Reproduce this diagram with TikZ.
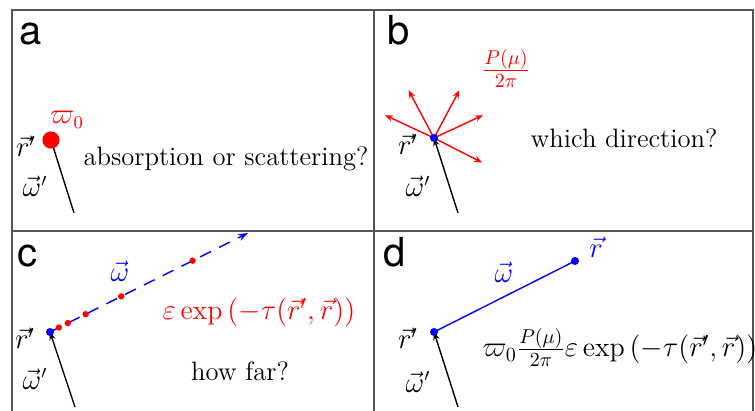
\documentclass[tikz,border=0pt]{standalone}
\usepackage{fontspec}
\newfontfamily\panelfont{TeX Gyre Heros}
\usetikzlibrary{arrows.meta,calc}
\definecolor{framegray}{RGB}{85,85,85}
\tikzset{
  panel/.style={font=\panelfont\fontsize{20}{24}\selectfont,anchor=base west,inner sep=0pt},
  txt/.style={font=\fontsize{13.3}{16}\selectfont,anchor=base,inner sep=0pt},
  bigtxt/.style={txt,font=\fontsize{14}{17}\selectfont},
  dot/.style={fill=blue},
}

\begin{document}
\begin{tikzpicture}[x=0.5pt,y=-0.5pt,line width=0.7pt,>={Stealth[length=4pt,width=3.2pt]}]
  \useasboundingbox (0,0) rectangle (755,411);
  \draw[framegray,line width=1.1pt] (12,411) -- (12,10) -- (753,10) -- (753,411);
  \draw[framegray,line width=1.1pt] (374,10) -- (374,411) (12,231) -- (753,231);

  \coordinate (A) at (51,140);
  \coordinate (A0) at (74,213);
  \draw[->] (A0) -- (A);
  \fill[red] (A) circle (4.3pt);
  \node[panel] (la) at (19,45) {a};
  \node[txt,red] (w0) at (67,124) {$\varpi_0$};
  \node[txt] (ra) at (26,157) {$\vec{r}'$};
  \node[txt] (oa) at (35,197) {$\vec{\omega}'$};
  \node[txt] (qa) at (226,166) {absorption or scattering?};

  \coordinate (B) at (434,138);
  \coordinate (B0) at (458,213);
  \draw[->] (B0) -- (B);
  \foreach \a in {-155,-118,-62,-25,27}
    \draw[red,->] (B) -- ++(\a:54);
  \fill[dot] (B) circle (2pt);
  \node[panel] (lb) at (387,45) {b};
  \node[bigtxt,red] (pb) at (506,78) {$\frac{P(\mu)}{2\pi}$};
  \node[txt] (rb) at (408,155) {$\vec{r}'$};
  \node[txt] (ob) at (418,197) {$\vec{\omega}'$};
  \node[txt] (qb) at (624,148) {which direction?};

  \coordinate (C) at (50,332);
  \coordinate (C0) at (75,407);
  \coordinate (C1) at (248,233);
  \draw[->] (C0) -- (C);
  \draw[blue,dash pattern=on 6pt off 4.5pt,->,>={Stealth[length=5pt,width=3.6pt]}] (C) -- (C1);
  \foreach \t in {0.045,0.09,0.18,0.36,0.72}
    \fill[red] ($(C)!\t!(C1)$) circle (1.6pt);
  \fill[dot] (C) circle (2pt);
  \node[panel] (lc) at (17,267) {c};
  \node[txt,blue] (wc) at (120,282) {$\vec{\omega}$};
  \node[txt] (rc) at (25,349) {$\vec{r}'$};
  \node[txt] (oc) at (35,389) {$\vec{\omega}'$};
  \node[bigtxt,red] (ec) at (259,320) {$\varepsilon\exp\left(-\tau(\vec{r}',\vec{r})\right)$};
  \node[txt] (qc) at (240,380) {how far?};

  \coordinate (D) at (434,332);
  \coordinate (D0) at (458,407);
  \coordinate (R) at (575,261);
  \draw[->] (D0) -- (D);
  \draw[blue] (D) -- (R);
  \fill[dot] (D) circle (2pt);
  \fill[dot] (R) circle (2pt);
  \node[panel] (ld) at (383,267) {d};
  \node[txt,blue] (wd) at (504,283) {$\vec{\omega}$};
  \node[txt,blue] (rd) at (596,258) {$\vec{r}$};
  \node[txt] (rdd) at (408,349) {$\vec{r}'$};
  \node[txt] (od) at (418,392) {$\vec{\omega}'$};
  \node[bigtxt] (ed) at (620,357) {$\varpi_0\frac{P(\mu)}{2\pi}\varepsilon\exp\left(-\tau(\vec{r}',\vec{r})\right)$};
\end{tikzpicture}
\end{document}
